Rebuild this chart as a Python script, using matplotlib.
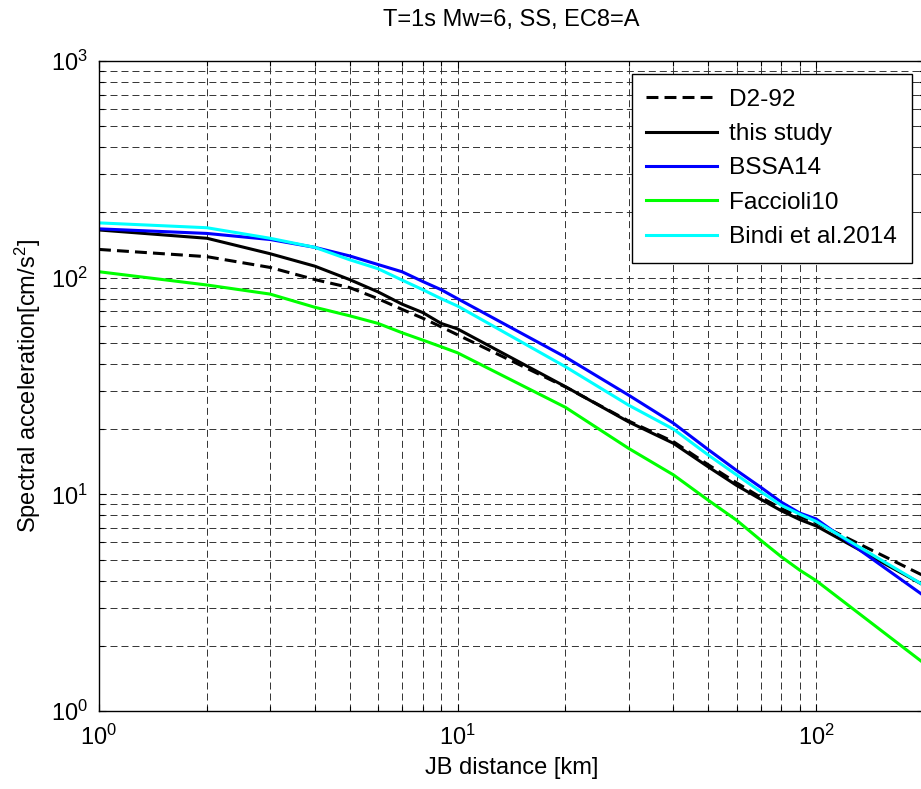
import matplotlib
matplotlib.use("Agg")
import matplotlib.pyplot as plt
from matplotlib.ticker import LogLocator, NullFormatter

plt.rcParams['font.family'] = ['Liberation Sans', 'DejaVu Sans']
plt.rcParams['mathtext.default'] = 'regular'
plt.rcParams['font.size'] = 17

# ---- data ----
dist = [1, 2, 3, 4, 5, 6, 7, 8, 9, 10, 20, 30, 40, 50, 60, 70, 80, 90, 100, 200]
d2_92 = [135, 125, 111.5, 98, 90, 80, 71.4, 65, 59.3, 54.5, 31.3, 21.8, 17.5, 13.7, 11.3, 9.7, 8.6, 7.9, 7.4, 4.2]
this_study = [166, 152, 129, 113, 98, 86, 75.5, 69, 61.5, 58, 31.4, 21.6, 17.2, 13.4, 11.0, 9.5, 8.4, 7.65, 7.15, 3.8]
bssa14 = [168, 160, 150, 138, 126, 115, 106.5, 96, 88, 80, 43, 28.7, 21.3, 16.1, 12.9, 10.8, 9.2, 8.2, 7.7, 3.4]
faccioli10 = [106.5, 92.5, 84, 73, 66.7, 61.5, 55.7, 51.5, 48, 45, 25.2, 16.3, 12.3, 9.4, 7.6, 6.15, 5.15, 4.47, 4.0, 1.66]
bindi14 = [179, 170, 152, 138, 121, 110, 97.5, 88, 80, 74, 38.8, 25.8, 20, 15.2, 12.3, 10.3, 8.9, 8.1, 7.5, 3.8]

labels = ['D2-92', 'this study', 'BSSA14', 'Faccioli10', 'Bindi et al.2014']
title = 'T=1s Mw=6, SS, EC8=A'
xlabel = 'JB distance [km]'
ylabel = 'Spectral acceleration[cm/s$^2$]'

W, H = 921, 789
fig = plt.figure(figsize=(W / 100, H / 100), dpi=100)
ax = fig.add_axes([99 / W, 1 - 711 / H, (924 - 99) / W, (711 - 61) / H])

lw = 2.2
ax.plot(dist, d2_92, color='black', lw=lw, linestyle=(0, (3.9, 2.0)), label=labels[0])
ax.plot(dist, this_study, color='black', lw=lw, label=labels[1])
ax.plot(dist, bssa14, color='#0000FF', lw=lw, label=labels[2])
ax.plot(dist, faccioli10, color='#00FF00', lw=lw, label=labels[3])
ax.plot(dist, bindi14, color='#00FFFF', lw=lw, label=labels[4])

ax.set_xscale('log')
ax.set_yscale('log')
ax.set_xlim(1, 200)
ax.set_ylim(1, 1000)

ax.xaxis.set_major_locator(LogLocator(base=10, numticks=10))
ax.yaxis.set_major_locator(LogLocator(base=10, numticks=10))
ax.xaxis.set_minor_locator(LogLocator(base=10, subs=range(2, 10), numticks=20))
ax.yaxis.set_minor_locator(LogLocator(base=10, subs=range(2, 10), numticks=20))
ax.xaxis.set_minor_formatter(NullFormatter())
ax.yaxis.set_minor_formatter(NullFormatter())

gridstyle = dict(color='0.2', linestyle=(0, (7.2, 4.1)), linewidth=0.7)
ax.grid(True, which='major', **gridstyle)
ax.grid(True, which='minor', **gridstyle)
ax.set_axisbelow(True)

ax.tick_params(which='both', direction='in', top=True, right=True, width=0.8, colors='black')
ax.tick_params(which='major', length=5)
ax.tick_params(which='minor', length=3.5)
ax.tick_params(axis='x', which='major', pad=10)
ax.tick_params(axis='y', which='major', pad=8)
for s in ax.spines.values():
    s.set_linewidth(1.0)
    s.set_color('black')

ax.set_title(title, fontsize=17, pad=25)
ax.set_xlabel(xlabel, fontsize=17, labelpad=5)
ax.set_ylabel(ylabel, fontsize=17, labelpad=6)

leg = ax.legend(loc='upper right', bbox_to_anchor=(912 / W, 1 - 74 / H),
                bbox_transform=fig.transFigure, fancybox=False, framealpha=1,
                edgecolor='black', handlelength=2.9, handletextpad=0.5,
                labelspacing=0.5, borderpad=0.6, borderaxespad=0, fontsize=17.6)
leg.get_frame().set_linewidth(1.0)

fig.savefig('out.png', dpi=100)
